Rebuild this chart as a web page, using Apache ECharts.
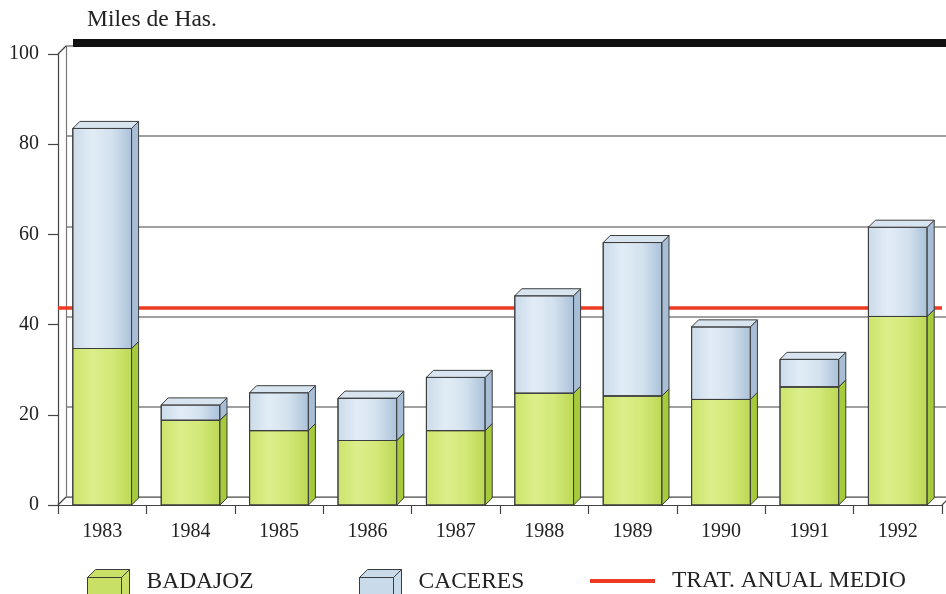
<!DOCTYPE html>
<html>
<head>
<meta charset="utf-8">
<script src="https://cdn.jsdelivr.net/npm/echarts@6/dist/echarts.min.js"></script>
<style>
  html, body { margin: 0; padding: 0; background: #ffffff; }
  #chart { width: 946px; height: 594px; }
</style>
</head>
<body>
<div id="chart"></div>
<script>
// Superficie tratada por año (miles de hectáreas)
const years = ['1983', '1984', '1985', '1986', '1987', '1988', '1989', '1990', '1991', '1992'];
const badajoz = [34.7, 18.8, 16.5, 14.3, 16.5, 24.8, 24.2, 23.4, 26.2, 41.8];
const caceres = [48.8, 3.4, 8.4, 9.4, 11.8, 21.6, 34.0, 16.1, 6.1, 19.8];
const tratAnualMedio = 43.7;
const yMin = 0, yMax = 100, yStep = 20;
const seriesNames = ['BADAJOZ', 'CACERES', 'TRAT. ANUAL MEDIO'];
const unitLabel = 'Miles de Has.';

// Layout / style constants
const FONT = '"Liberation Serif", "Times New Roman", serif';
const TEXT = '#222222';
const EDGE = '#3c3c3c';
const RED = '#ee3a22';
const D = 7;            // depth of the boxes (px)
const WALL = 8;         // offset of the back wall (px)
const BAR_RATIO = 0.665;
const FRONT = { left: 58, right: 4, top: 54, bottom: 89 };

const grad = (stops) => new echarts.graphic.LinearGradient(0, 0, 1, 0,
  stops.map((c, k) => ({ offset: k / (stops.length - 1), color: c })));

const GREEN = {
  front: grad(['#cce46a', '#dbee8a', '#d2e877', '#bcd854']),
  side: '#a5cb3a',
  top: '#dbed92',
  flat: '#c8e066'
};
const BLUE = {
  front: grad(['#cbdbea', '#e2ecf6', '#d3e1ee', '#aac1d9']),
  side: '#a7bed6',
  top: '#d8e5f1',
  flat: '#c9dbeb'
};

// stacked ranges [index, from, to]
const badajozData = badajoz.map((v, i) => [i, 0, v]);
const caceresData = caceres.map((v, i) => [i, badajoz[i], badajoz[i] + v]);

function makeBox(faces) {
  return function (params, api) {
    const i = api.value(0);
    const lo = api.coord([i, api.value(1)]);
    const hi = api.coord([i, api.value(2)]);
    const w = api.size([1, 0])[0] * BAR_RATIO;
    const x0 = lo[0] - w / 2, x1 = lo[0] + w / 2;
    const yb = lo[1], yt = hi[1];
    const edge = { stroke: EDGE, lineWidth: 1 };
    return {
      type: 'group',
      children: [
        { type: 'rect', shape: { x: x0, y: yt, width: w, height: yb - yt },
          style: Object.assign({ fill: faces.front }, edge) },
        { type: 'polygon', shape: { points: [[x1, yb], [x1 + D, yb - D], [x1 + D, yt - D], [x1, yt]] },
          style: Object.assign({ fill: faces.side }, edge) },
        { type: 'polygon', shape: { points: [[x0, yt], [x0 + D, yt - D], [x1 + D, yt - D], [x1, yt]] },
          style: Object.assign({ fill: faces.top }, edge) }
      ]
    };
  };
}

// legend cube, with blank room above so it sits low on the row
const CUBE_ICON = 'path://M0,-16M0,8L34,8L34,40L0,40Z M0,8L8,0L42,0L34,8Z M34,8L42,0L42,32L34,40Z';
const LINE_ICON = 'path://M0,0L65,0L65,4L0,4Z';

const chart = echarts.init(document.getElementById('chart'), null, { renderer: 'canvas' });

const legendText = { fontFamily: FONT, fontSize: 23.5, color: TEXT };

chart.setOption({
  animation: false,
  backgroundColor: '#ffffff',
  title: {
    text: unitLabel,
    left: 87, top: 8, padding: 0,
    textStyle: { fontFamily: FONT, fontSize: 23.5, fontWeight: 'normal', color: TEXT }
  },
  legend: [
    { data: [{ name: seriesNames[0], icon: CUBE_ICON }], left: 87, top: 553,
      itemWidth: 66, itemHeight: 56, textStyle: legendText,
      itemStyle: { borderColor: EDGE, borderWidth: 1 }, selectedMode: false, padding: 0 },
    { data: [{ name: seriesNames[1], icon: CUBE_ICON }], left: 359, top: 553,
      itemWidth: 66, itemHeight: 56, textStyle: legendText,
      itemStyle: { borderColor: EDGE, borderWidth: 1 }, selectedMode: false, padding: 0 },
    { data: [{ name: seriesNames[2], icon: LINE_ICON }], left: 590, top: 569,
      itemWidth: 89, itemHeight: 4, textStyle: legendText,
      itemStyle: { color: RED, borderWidth: 0 }, selectedMode: false, padding: 0 }
  ],
  grid: [
    { left: FRONT.left, right: FRONT.right, top: FRONT.top, bottom: FRONT.bottom, containLabel: false },
    { left: FRONT.left + WALL, right: 0, top: FRONT.top - WALL, bottom: FRONT.bottom + WALL, containLabel: false }
  ],
  xAxis: [
    {
      type: 'category', gridIndex: 0, data: years, boundaryGap: true,
      axisLine: { show: true, lineStyle: { color: '#444', width: 1.2 } },
      axisTick: { show: true, length: 9, lineStyle: { color: '#444', width: 1.2 } },
      axisLabel: { fontFamily: FONT, fontSize: 20, color: TEXT, margin: 17 },
      splitLine: { show: false }
    },
    {
      type: 'category', gridIndex: 1, data: years, boundaryGap: true,
      axisLine: { show: true, lineStyle: { color: '#777', width: 1.2 } },
      axisTick: { show: false }, axisLabel: { show: false }, splitLine: { show: false }
    }
  ],
  yAxis: [
    {
      type: 'value', gridIndex: 0, min: yMin, max: yMax, interval: yStep,
      axisLine: { show: true, lineStyle: { color: '#444', width: 1.2 } },
      axisTick: { show: true, length: 10, lineStyle: { color: '#444', width: 1.2 } },
      axisLabel: { fontFamily: FONT, fontSize: 20, color: TEXT, margin: 19 },
      splitLine: { show: false }
    },
    {
      type: 'value', gridIndex: 1, min: yMin, max: yMax, interval: yStep,
      axisLine: { show: true, lineStyle: { color: '#777', width: 1.2 } },
      axisTick: { show: false }, axisLabel: { show: false },
      splitLine: { show: true, lineStyle: { color: '#808080', width: 1.5 } }
    }
  ],
  series: [
    {
      name: seriesNames[2], type: 'line', xAxisIndex: 0, yAxisIndex: 0, data: [], z: 1,
      itemStyle: { color: RED }, lineStyle: { color: RED },
      markLine: {
        z: 1, silent: true, symbol: 'none', label: { show: false },
        lineStyle: { color: RED, width: 3.5, type: 'solid' },
        data: [{ yAxis: tratAnualMedio }]
      }
    },
    {
      name: seriesNames[0], type: 'custom', xAxisIndex: 0, yAxisIndex: 0, z: 6,
      itemStyle: { color: GREEN.flat },
      encode: { x: 0, y: [1, 2] }, data: badajozData, renderItem: makeBox(GREEN)
    },
    {
      name: seriesNames[1], type: 'custom', xAxisIndex: 0, yAxisIndex: 0, z: 7,
      itemStyle: { color: BLUE.flat },
      encode: { x: 0, y: [1, 2] }, data: caceresData, renderItem: makeBox(BLUE)
    }
  ]
});

// frame corners joining the front axes to the back wall, and the heavy rule on top
const yTopF = chart.convertToPixel({ yAxisIndex: 0 }, yMax);
const yBotF = chart.convertToPixel({ yAxisIndex: 0 }, yMin);
const yTopB = chart.convertToPixel({ yAxisIndex: 1 }, yMax);
const xLeft = FRONT.left, xRight = 946 - FRONT.right;
const frame = { stroke: '#444', lineWidth: 1.2 };
chart.setOption({
  graphic: [
    { type: 'line', shape: { x1: xLeft, y1: yTopF, x2: xLeft + WALL, y2: yTopF - WALL }, style: frame, z: 10 },
    { type: 'line', shape: { x1: xLeft, y1: yBotF, x2: xLeft + WALL, y2: yBotF - WALL }, style: frame, z: 10 },
    { type: 'line', shape: { x1: xRight, y1: yBotF, x2: xRight + WALL, y2: yBotF - WALL }, style: frame, z: 10 },
    { type: 'rect', shape: { x: xLeft + 15, y: yTopB - 7, width: 946 - xLeft - 15, height: 8 },
      style: { fill: '#111111' }, z: 10 }
  ]
});
</script>
</body>
</html>
